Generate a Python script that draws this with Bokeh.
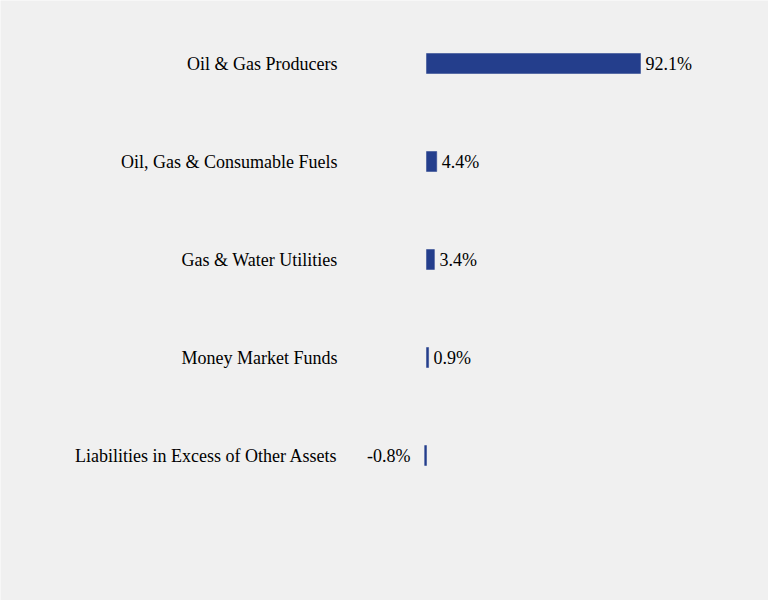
from bokeh.plotting import figure
from bokeh.models import Range1d, ColumnDataSource
from bokeh.core.properties import value
from bokeh.embed import file_html
from bokeh.resources import INLINE

categories = ["Oil & Gas Producers", "Oil, Gas & Consumable Fuels", "Gas & Water Utilities",
              "Money Market Funds", "Liabilities in Excess of Other Assets"]
values = [92.1, 4.4, 3.4, 0.9, -0.8]
labels = ["92.1%", "4.4%", "3.4%", "0.9%", "-0.8%"]

W, H = 768, 600
zero_px = 426.0
scale = 214.0 / 92.1
row = 98.0
top_px = 63.0

x0 = -zero_px / scale
x1 = (W - zero_px) / scale
ytop = top_px / row
ybot = ytop - H / row

p = figure(width=W, height=H, output_backend="svg", toolbar_location=None,
           x_range=Range1d(x0, x1), y_range=Range1d(ybot, ytop),
           min_border=0, border_fill_color="#f0f0f0", background_fill_color="#f0f0f0")
p.axis.visible = False
p.grid.visible = False
p.outline_line_color = None

ys = [-i for i in range(len(categories))]
src = ColumnDataSource(dict(y=ys, v=values, l=[min(0, v) for v in values], r=[max(0, v) for v in values],
                            cat=categories, lab=labels))
p.hbar(y="y", left="l", right="r", height=20.0 / row, source=src,
       fill_color="#243e8c", line_color="#243e8c", line_width=0.5)

p.text(x=[0] * len(ys), y=ys, text=categories, x_offset=-89, text_align="right",
       text_baseline="middle", text_font=value("Liberation Serif"), text_font_size="18px",
       text_color="#000000")

pos_x = [v for v in values if v >= 0]
pos_y = [y for y, v in zip(ys, values) if v >= 0]
pos_l = [l for l, v in zip(labels, values) if v >= 0]
neg_y = [y for y, v in zip(ys, values) if v < 0]
neg_l = [l for l, v in zip(labels, values) if v < 0]
p.text(x=pos_x, y=pos_y, text=pos_l, x_offset=5, text_align="left", text_baseline="middle",
       text_font=value("Liberation Serif"), text_font_size="18px", text_color="#000000")
p.text(x=[0] * len(neg_y), y=neg_y, text=neg_l, x_offset=-16, text_align="right", text_baseline="middle",
       text_font=value("Liberation Serif"), text_font_size="18px", text_color="#000000")

open("out.html", "w").write(file_html(p, INLINE))
